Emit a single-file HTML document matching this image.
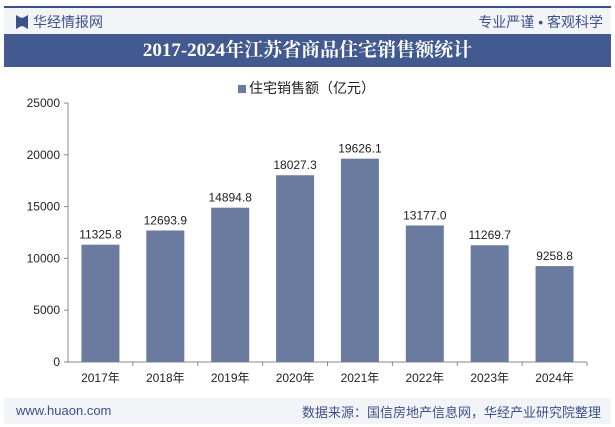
<!DOCTYPE html>
<html><head><meta charset="utf-8"><style>
body{margin:0;width:615px;height:427px;background:#fff;font-family:"Liberation Sans","Noto Sans CJK SC",sans-serif;position:relative;overflow:hidden}
.a{position:absolute}
</style></head><body>
<div class="a" style="left:4px;top:6px;width:607px;height:2px;background:#3c5189"></div>
<div class="a" style="left:4px;top:8px;width:607px;height:26px;background:#f3f4f8"></div>
<div class="a" style="left:16px;top:15px;width:12px;height:14px;background:#3c5189;clip-path:polygon(0 0,40% 20%,60% 20%,100% 0,100% 100%,60% 80%,40% 80%,0 100%)"></div>
<div class="a" style="left:33px;top:12px;font-size:14px;color:#3c5189">华经情报网</div>
<div class="a" style="right:12px;top:12px;font-size:14px;color:#3c5189">专业严谨 • 客观科学</div>
<div class="a" style="left:4px;top:34px;width:607px;height:33px;background:#425a8f;color:#fff;font-family:'Liberation Serif','Noto Serif CJK SC',serif;font-weight:bold;font-size:19px;text-align:center;line-height:33px">2017-2024年江苏省商品住宅销售额统计</div>
<div class="a" style="left:238px;top:78px;font-size:14px;color:#222"><span style="display:inline-block;width:8px;height:8px;background:#6b7a9f;margin-right:3px"></span>住宅销售额（亿元）</div>
<svg class="a" style="left:0;top:0" width="615" height="427"><g id="g"></g></svg>
<div class="a" style="left:4px;top:398px;width:607px;height:26px;background:#f3f4f8"></div>
<div class="a" style="left:16px;top:403px;font-size:13px;color:#3c5189">www.huaon.com</div>
<div class="a" style="right:14px;top:402px;font-size:13px;color:#3c5189">数据来源：国信房地产信息网，华经产业研究院整理</div>
<script>
const categories=["2017年","2018年","2019年","2020年","2021年","2022年","2023年","2024年"];
const values=[11325.8,12693.9,14894.8,18027.3,19626.1,13177.0,11269.7,9258.8];
const ticks=[0,5000,10000,15000,20000,25000];
const g=document.getElementById('g'),NS="http://www.w3.org/2000/svg";
const x0=68,x1=587,y0=362,yT=103,max=25000;
const y=v=>y0-(v/max)*(y0-yT);
const step=(x1-x0)/categories.length;
const xc=i=>x0+step*(i+0.5);
function el(t,a,txt){const e=document.createElementNS(NS,t);for(const k in a)e.setAttribute(k,a[k]);if(txt!=null)e.textContent=txt;g.appendChild(e);return e;}
let ax=el('line',{x1:x0,y1:yT,x2:x0,y2:y0,stroke:'#888'});

let bx=el('line',{x1:x0,y1:y0,x2:x1,y2:y0,stroke:'#888'});

ticks.forEach(t=>{
 el('line',{x1:x0-4,y1:y(t),x2:x0,y2:y(t),stroke:'#888'});
 let l=el('text',{x:x0-8,y:y(t)+4,'text-anchor':'end','font-size':12,fill:'#222'},t);
 
});
categories.forEach((c,i)=>{
 let b=el('rect',{x:xc(i)-19,y:y(values[i]),width:38,height:y0-y(values[i]),fill:'#6b7a9f'});
 
 let v=el('text',{x:xc(i),y:y(values[i])-6,'text-anchor':'middle','font-size':12,fill:'#222'},values[i].toFixed(1));
 
 el('line',{x1:x0+step*(i+1),y1:y0,x2:x0+step*(i+1),y2:y0+4,stroke:'#888'});
 let l=el('text',{x:xc(i),y:y0+20,'text-anchor':'middle','font-size':12,fill:'#222'},c);
 
});
</script>
</body></html>
